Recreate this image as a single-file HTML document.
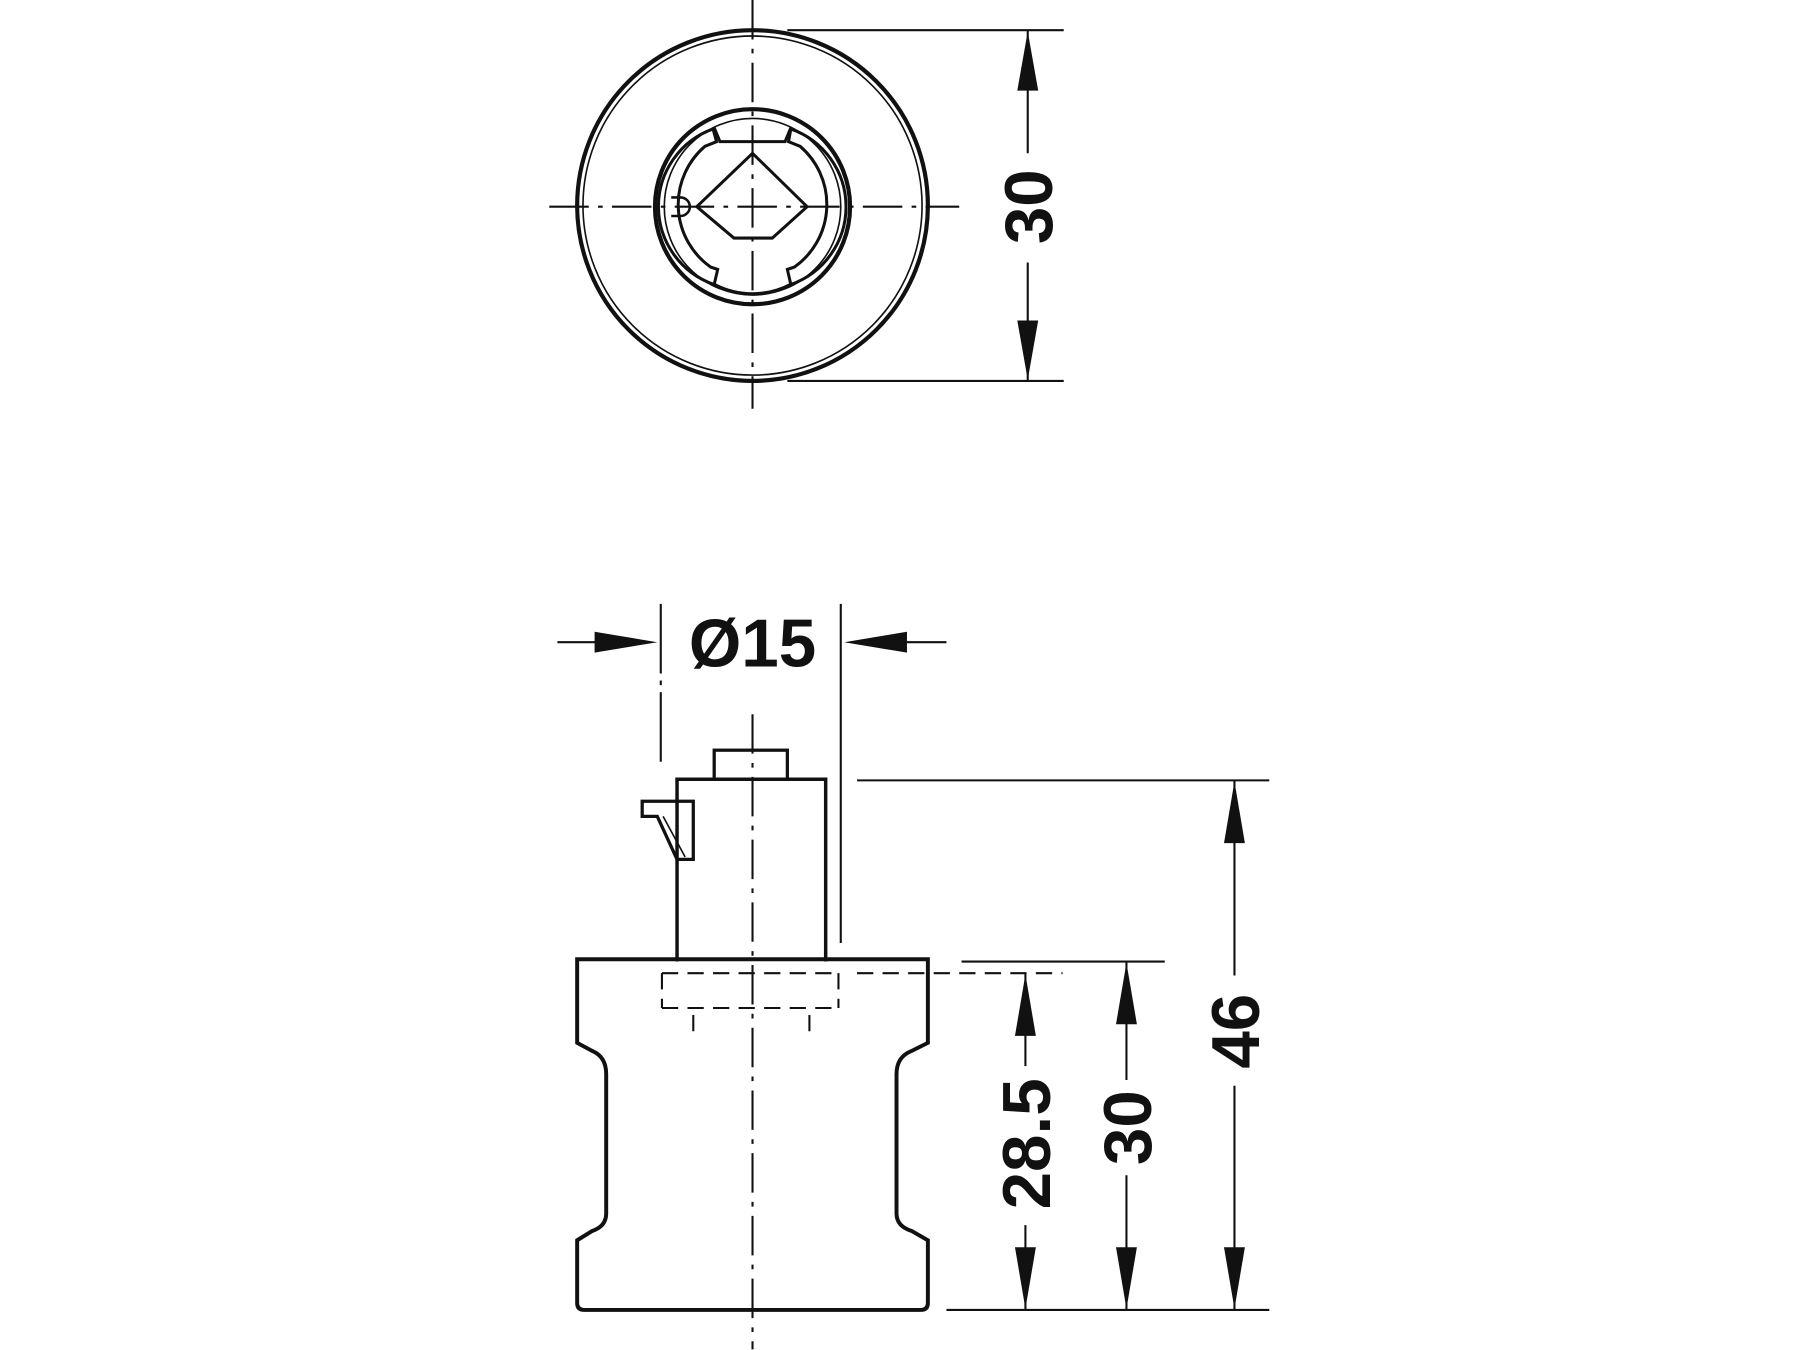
<!DOCTYPE html>
<html><head><meta charset="utf-8"><style>html,body{margin:0;padding:0;background:#fff;}svg{display:block}</style></head>
<body>
<svg width="1800" height="1350" viewBox="0 0 1550 1162.5" preserveAspectRatio="none" xmlns="http://www.w3.org/2000/svg">
<g fill="none" stroke="#111" stroke-linecap="butt">
<g stroke-width="1.8" stroke-dasharray="34,8,4,8">
<line x1="648" y1="0" x2="648" y2="352"/>
<line x1="473" y1="178" x2="826" y2="178"/>
<line x1="648" y1="615" x2="648" y2="1162"/>
</g>
<circle cx="648" cy="177" r="151" stroke-width="3.6"/>
<circle cx="648" cy="177" r="146" stroke-width="1.4"/>
<circle cx="648" cy="178" r="84" stroke-width="3.6"/>
<circle cx="648" cy="178" r="76" stroke-width="1.4"/>
<path d="M614,111 A71,71 0 0 0 615,245 L618,232 L612,230 A66,66 0 0 1 607,126 L617,122 Z" stroke-width="2.6"/>
<path d="M615,110 L620,122 L676,122 L681,110" stroke-width="2.6"/>
<path d="M681,111 A71,71 0 0 1 681,245 L678,232 L684,230 A66,66 0 0 0 689,126 L679,122 Z" stroke-width="2.6"/>
<path d="M615,245 A71,71 0 0 0 681,245" stroke-width="3"/>
<path d="M600,178 L648,132 L695,178 L665,205 L632,205 Z" stroke-width="2.6"/>
<path d="M586,170 A8,8 0 0 1 586,186 L578,186 M586,170 L578,170" stroke-width="2.2"/>
<g stroke-width="1.8">
<line x1="678" y1="26" x2="916" y2="26"/>
<line x1="678" y1="328" x2="916" y2="328"/>
<line x1="885" y1="26" x2="885" y2="132"/>
<line x1="885" y1="226" x2="885" y2="328"/>
</g>
<rect x="615" y="646" width="63" height="25" stroke-width="2.8"/>
<path d="M583,828 L583,671 L711,671 L711,828" stroke-width="3"/>
<path d="M583,690 L553,690 L553,703 L566,703 L583,740 L597,740 L597,690 Z" stroke-width="2.8"/>
<line x1="571" y1="703" x2="590" y2="738" stroke-width="1.4"/>
<path d="M500,826 L799,826 L799,898 L785,905 Q772,910 772,925 L772,1045 Q772,1056 785,1060 L799,1068 L799,1122 Q799,1128 793,1128 L503,1128 Q497,1128 497,1122 L497,1068 L510,1060 Q522,1056 522,1045 L522,925 Q522,910 510,905 L497,898 L497,826 Z" stroke-width="3.4"/>
<g stroke-width="1.8" stroke-dasharray="14,8">
<line x1="570" y1="838" x2="722" y2="838"/>
<line x1="570" y1="868" x2="722" y2="868"/>
<line x1="570" y1="838" x2="570" y2="868"/>
<line x1="722" y1="838" x2="722" y2="868"/>
<line x1="597" y1="874" x2="597" y2="895"/>
<line x1="697" y1="874" x2="697" y2="895"/>
<line x1="738" y1="838" x2="915" y2="838"/>
</g>
<g stroke-width="1.8">
<line x1="569" y1="520" x2="569" y2="660" stroke-dasharray="60,6,4,6"/>
<line x1="724" y1="520" x2="724" y2="812"/>
<line x1="480" y1="553" x2="560" y2="553"/>
<line x1="733" y1="553" x2="815" y2="553"/>
<line x1="738" y1="672" x2="1093" y2="672"/>
<line x1="828" y1="828" x2="1003" y2="828"/>
<line x1="815" y1="1128" x2="1093" y2="1128"/>
<line x1="883" y1="838" x2="883" y2="918"/>
<line x1="883" y1="1055" x2="883" y2="1128"/>
<line x1="970" y1="828" x2="970" y2="930"/>
<line x1="970" y1="1012" x2="970" y2="1128"/>
<line x1="1063" y1="672" x2="1063" y2="840"/>
<line x1="1063" y1="935" x2="1063" y2="1128"/>
</g>
</g>
<g fill="#111">
<polygon points="885,27 876,78 894,78"/>
<polygon points="885,327 876,276 894,276"/>
<polygon points="566,553 512,544 512,562"/>
<polygon points="727,553 781,544 781,562"/>
<polygon points="883,839 874,892 892,892"/>
<polygon points="883,1127 874,1074 892,1074"/>
<polygon points="970,829 961,882 979,882"/>
<polygon points="970,1127 961,1074 979,1074"/>
<polygon points="1063,673 1054,726 1072,726"/>
<polygon points="1063,1127 1054,1074 1072,1074"/>
</g>
<g font-family="Liberation Sans, sans-serif" font-weight="bold" font-size="58" fill="#111" text-anchor="middle">
<text x="648" y="574">Ø15</text>
<text transform="translate(906,178) rotate(-90)">30</text>
<text transform="translate(904,985) rotate(-90)">28.5</text>
<text transform="translate(991,971) rotate(-90)">30</text>
<text transform="translate(1084,888) rotate(-90)">46</text>
</g>
</svg>
</body></html>
